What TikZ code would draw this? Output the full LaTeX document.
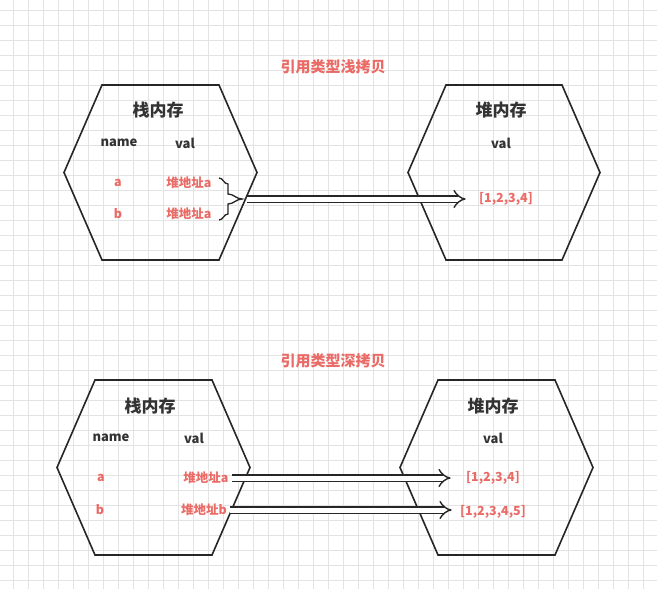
\documentclass[tikz,border=0pt]{standalone}
\usepackage{fontspec}
\setmainfont{Noto Sans CJK SC}
\usetikzlibrary{positioning, arrows.meta}
\definecolor{memred}{HTML}{EA6B66}
\definecolor{gridgray}{HTML}{E3E3E3}
\tikzset{
  hexa/.style={draw=black!85, line width=1.6pt},
  title/.style={font=\bfseries\fontsize{15}{18}\selectfont, text=memred},
  head/.style={font=\bfseries\fontsize{17}{20}\selectfont, text=black!80},
  col/.style={font=\bfseries\fontsize{13}{15}\selectfont, text=black!80},
  val/.style={font=\bfseries\fontsize{12.5}{14}\selectfont, text=memred},
  ptr/.style={double=white, draw=black!85, double distance=5pt, line width=1.4pt,
    -{Implies[length=9pt, width=13pt]}},
}
% hexagon: center x, center y, half width, half height
\newcommand{\hexagon}[4]{%
  \draw[hexa] (#1-#3,#2) -- (#1-#3+38,#2-#4) -- (#1+#3-38,#2-#4) -- (#1+#3,#2)
    -- (#1+#3-38,#2+#4) -- (#1-#3+38,#2+#4) -- cycle;}
\begin{document}
\begin{tikzpicture}[x=1pt, y=-1pt]
    \fill[white] (0,0) rectangle (657,589);
    \useasboundingbox (0,0) rectangle (657,589);
    \foreach \g in {13,28,...,657} \draw[gridgray, line width=0.7pt] (\g,0) -- (\g,589);
    \foreach \g in {10,25,...,589} \draw[gridgray, line width=0.7pt] (0,\g) -- (657,\g);
    % shallow copy
    \node (t1) [title] at (333,67) {引用类型浅拷贝};
    \hexagon{160.5}{172.5}{96.5}{87.5}
    \hexagon{504}{172.5}{96}{87.5}
    \node (s1) [head] at (158,110) {栈内存};
    \node (n1) [col] at (119,143) {name};
    \node (v1) [col] at (185,143) {val};
    \node (a1) [val] at (118,183) {a};
    \node (pa1) [val] at (189,183) {堆地址a};
    \node (b1) [val] at (118,214) {b};
    \node (pb1) [val] at (189,214) {堆地址a};
    \draw[line width=1.3pt, black!85] (219,178) to[out=0,in=180] (228,184) -- (228,194)
      to[out=0,in=180] (242,199) to[out=180,in=0] (228,204) -- (228,214) to[out=180,in=0] (219,220);
    \coordinate (br1) at (247,199);
    \node (h1) [head] at (501,110) {堆内存};
    \node (hv1) [col] at (501,143) {val};
    \node (arr1) [val] at (506,199) {[1,2,3,4]};
    \draw[ptr] (br1) -- ([xshift=-10pt]arr1.west);
    % deep copy
    \node (t2) [title] at (333,361) {引用类型深拷贝};
    \hexagon{153.5}{467.5}{96.5}{87.5}
    \hexagon{496.5}{467.5}{96.5}{87.5}
    \node (s2) [head] at (150,406) {栈内存};
    \node (n2) [col] at (111,438) {name};
    \node (v2) [col] at (194,438) {val};
    \node (a2) [val] at (101,478) {a};
    \node (pa2) [val] at (206,478) {堆地址a};
    \node (b2) [val] at (100,510) {b};
    \node (pb2) [val] at (204,510) {堆地址b};
    \node (h2) [head] at (493,406) {堆内存};
    \node (hv2) [col] at (493,438) {val};
    \node (arr2) [val] at (493,478) {[1,2,3,4]};
    \node (arr3) [val] at (493,512) {[1,2,3,4,5]};
    \draw[ptr] (pa2.east) -- ([xshift=-12pt]arr2.west);
    \draw[ptr] (pb2.east) -- ([xshift=-5pt]arr3.west |- pb2.east);
\end{tikzpicture}
\end{document}
